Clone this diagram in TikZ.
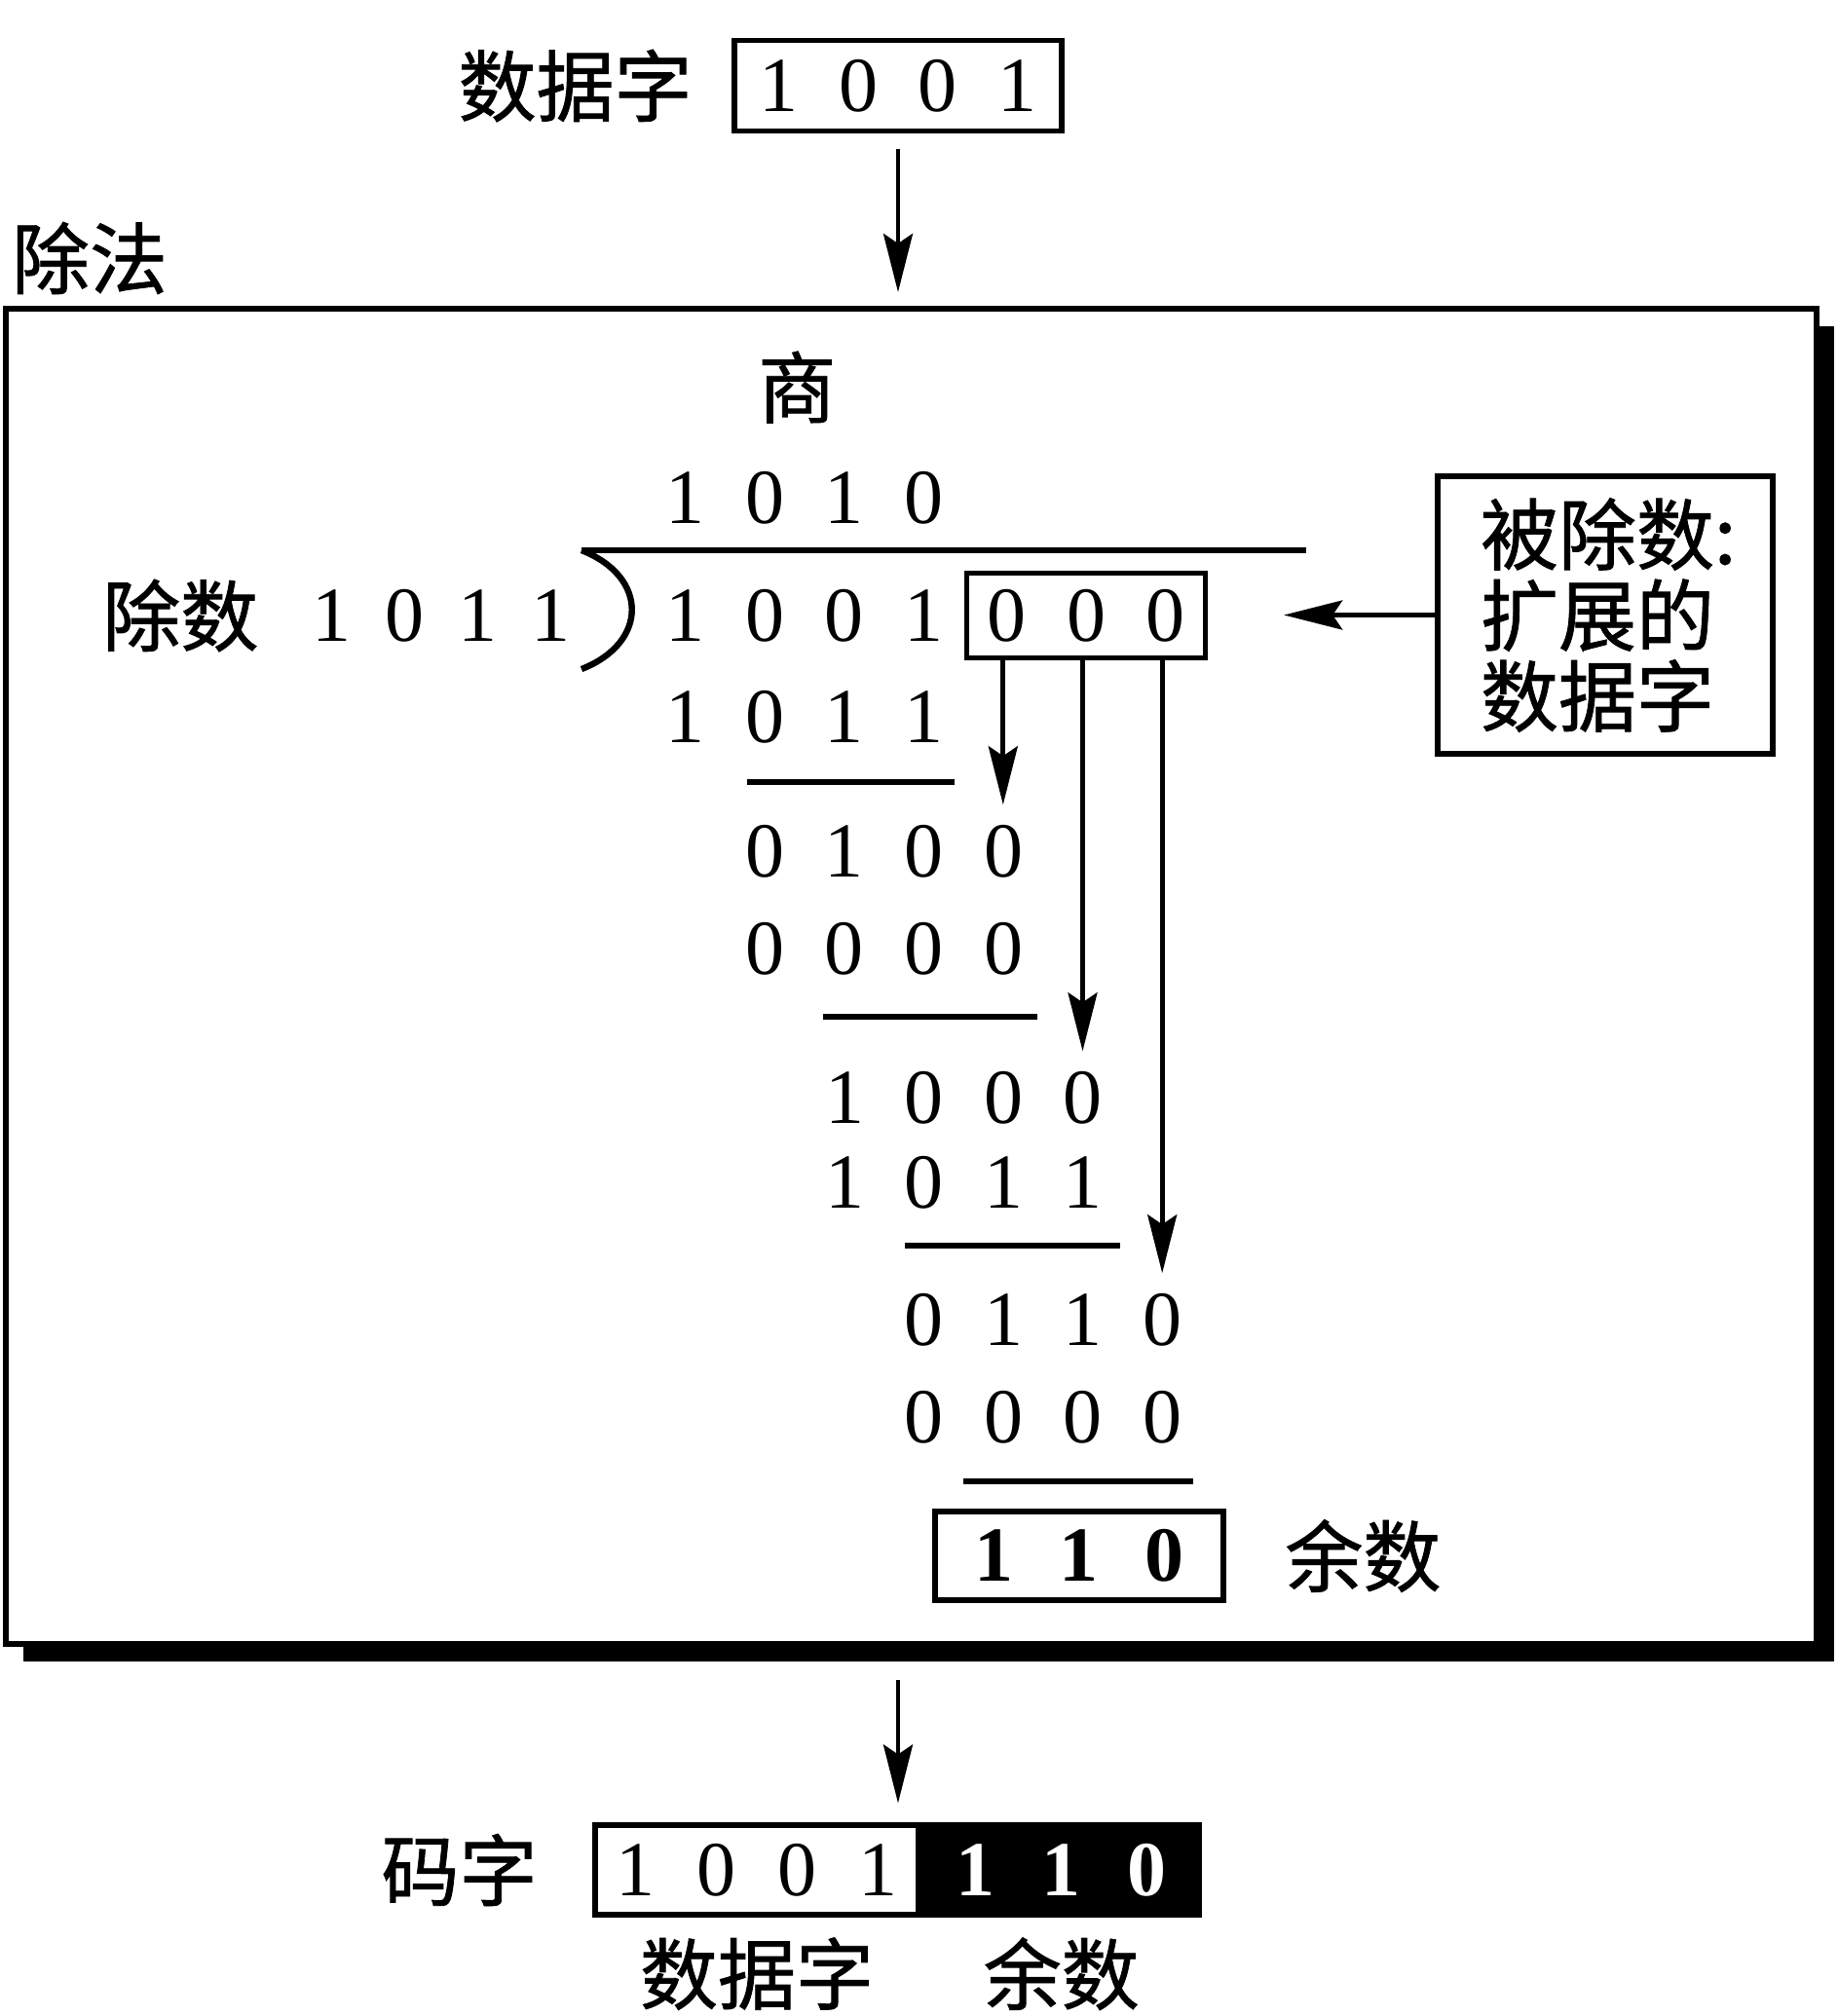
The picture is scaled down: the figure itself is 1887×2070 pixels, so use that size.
\documentclass[tikz,border=0pt]{standalone}
\usepackage{fontspec}
\setmainfont{Liberation Serif}
\newfontfamily\cjk{Noto Sans CJK SC}[FakeBold=1]
\usetikzlibrary{%
    arrows.meta,%
    positioning,%
    calc,%
    shadows%
}
\newcommand{\dg}[2][20.4pt]{\makebox[#1]{#2}}
\tikzset{
    bits/.style = {inner sep=0pt, font=\fontsize{20pt}{24pt}\selectfont},
    word/.style = {bits, draw, line width=1.3pt},
    cjktext/.style = {inner sep=0pt, font=\cjk\fontsize{20pt}{20.75pt}\selectfont},
    arr/.style = {-{Stealth[length=15pt, width=7.5pt, inset=2.5pt]}, line width=1.2pt},
    subline/.style = {line width=1.6pt},
    divframe/.style = {draw, line width=1.5pt, fill=white, minimum width=464.75pt,
    minimum height=342.75pt, drop shadow={shadow xshift=4.5pt, shadow yshift=-4.5pt,
    fill=black, opacity=1}}
}
\begin{document}
\begin{tikzpicture}[x=0.25pt, y=-0.25pt]
    \useasboundingbox (0,0) rectangle (1887,2070);
    \foreach \i in {0,...,6} {\coordinate (c\i) at ({703+81.7*\i},0);}

    \node[word, minimum width=84pt, minimum height=23.25pt] (data) at (922,88) {\dg{1}\dg{0}\dg{0}\dg{1}};
    \node[cjktext, left=10pt of data] (datalbl) {数据字};
    \node[divframe] (div) at (935.5,1002.5) {};
    \node[cjktext] (divlbl) at (92,265) {除法};
    \draw[arr, shorten <=4pt, shorten >=3.5pt] (data.south) -- (data.south |- div.north);

    \node[bits, anchor=west] (quot) at ($(c0)+(-40.85,511)$) {\dg{1}\dg{0}\dg{1}\dg{0}};
    \node[cjktext, above=12pt of quot, xshift=-2pt] (quotlbl) {商};
    \node[bits, anchor=west] (divd) at ($(c0)+(-40.85,632)$) {\dg{1}\dg{0}\dg{0}\dg{1}};
    \node[word, right=0pt of divd, minimum height=21.75pt] (ext) {\dg{0}\dg{0}\dg{0}};
    \node[bits] (dvs) at (453,632) {\dg[18.75pt]{1}\dg[18.75pt]{0}\dg[18.75pt]{1}\dg[18.75pt]{1}};
    \node[cjktext, left=9pt of dvs] (dvslbl) {除数};
    \draw[subline] (597,565) -- (1341,565);
    \draw[subline] (597,565) .. controls (666,592) and (666,660) .. (597,687);

    \node[draw, line width=1.3pt, cjktext, align=left, text width=64pt, inner xsep=11pt,
    minimum height=71.25pt] (note) at (1648,631.5) {被除数:\\扩展的\\数据字};
    \draw[arr, shorten >=19.5pt] (note.west) -- (note.west -| ext.east);

    \node[bits, anchor=west] (s1) at ($(c0)+(-40.85,736)$) {\dg{1}\dg{0}\dg{1}\dg{1}};
    \draw[subline] (767,803) -- (980,803);
    \node[bits, anchor=west] (r1) at ($(c1)+(-40.85,874)$) {\dg{0}\dg{1}\dg{0}\dg{0}};
    \node[bits, anchor=west] (s2) at ($(c1)+(-40.85,974)$) {\dg{0}\dg{0}\dg{0}\dg{0}};
    \draw[subline] (845,1044) -- (1065,1044);
    \node[bits, anchor=west] (r2) at ($(c2)+(-40.85,1127)$) {\dg{1}\dg{0}\dg{0}\dg{0}};
    \node[bits, anchor=west] (s3) at ($(c2)+(-40.85,1214)$) {\dg{1}\dg{0}\dg{1}\dg{1}};
    \draw[subline] (929,1279) -- (1150,1279);
    \node[bits, anchor=west] (r3) at ($(c3)+(-40.85,1355)$) {\dg{0}\dg{1}\dg{1}\dg{0}};
    \node[bits, anchor=west] (s4) at ($(c3)+(-40.85,1455)$) {\dg{0}\dg{0}\dg{0}\dg{0}};
    \draw[subline] (989,1521) -- (1225,1521);
    \node[word, font=\fontsize{20pt}{24pt}\selectfont\bfseries, minimum width=74pt,
    minimum height=22.75pt] (rem) at (1108,1597.5) {\dg[22pt]{1}\dg[22pt]{1}\dg[22pt]{0}};
    \node[cjktext, right=15pt of rem] (remlbl) {余数};

    \draw[arr, shorten >=5pt] (ext.south -| c4) -- (r1.north -| c4);
    \draw[arr, shorten >=5pt] (ext.south -| c5) -- (r2.north -| c5);
    \draw[arr, shorten >=5pt] (ext.south -| c6) -- (r3.north -| c6);

    \node[word, minimum width=82.5pt, minimum height=23pt] (cwdata) at (777,1920)
    {\dg[20.75pt]{1}\dg[20.75pt]{0}\dg[20.75pt]{0}\dg[20.75pt]{1}};
    \node[word, fill=black, text=white, font=\fontsize{20pt}{24pt}\selectfont\bfseries,
    minimum width=70.75pt, minimum height=23pt, right=0pt of cwdata] (cwrem)
    {\dg[22pt]{1}\dg[22pt]{1}\dg[22pt]{0}};
    \node[cjktext, left=14pt of cwdata] (cwlbl) {码字};
    \node[cjktext, below=5pt of cwdata] (cwdatalbl) {数据字};
    \node[cjktext, below=5pt of cwrem] (cwremlbl) {余数};
    \draw[arr, shorten <=8.5pt, shorten >=5pt] (div.south -| data) -- (cwdata.north -| data);
\end{tikzpicture}
\end{document}
